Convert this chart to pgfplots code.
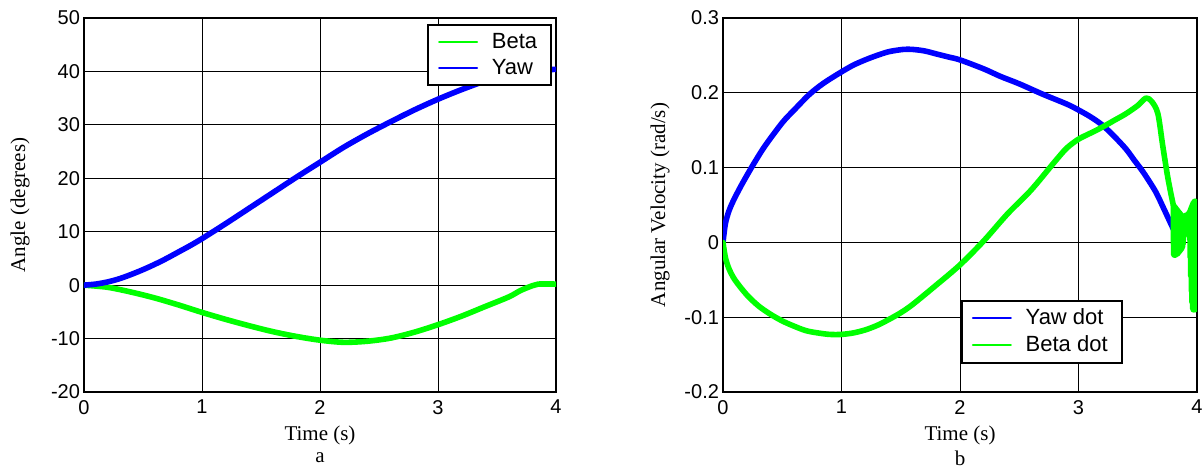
\documentclass[border=0pt]{standalone}
\usepackage{fontspec}
\setmainfont{Liberation Serif}
\setsansfont{Liberation Sans}
\usepackage{pgfplots}
\pgfplotsset{compat=1.18}
\definecolor{mblue}{RGB}{0,0,255}
\definecolor{mgreen}{RGB}{0,255,0}
\pgfplotsset{
 myax/.style={
   scale only axis, height=187pt,
   xmin=0, xmax=4, xtick={0,1,2,3,4},
   grid=major, major grid style={black, line width=0.5pt},
   axis line style={line width=0.9pt},
   tick style={black, line width=0.5pt}, tick align=inside, major tick length=3pt,
   ticklabel style={font=\sffamily\fontsize{10}{12}\selectfont},
   /pgf/number format/assume math mode=true,
   yticklabel style={xshift=1.5pt},
   xticklabel style={yshift=-0.5pt},
   label style={font=\fontsize{10.5}{12}\selectfont},
   xlabel style={at={(axis description cs:0.5,0)}, anchor=center, yshift=-21.5pt},
   legend style={font=\sffamily\fontsize{11}{12}\selectfont, draw=black, line width=0.9pt, fill=white,
      inner xsep=5pt, inner ysep=2pt, row sep=0pt, cells={anchor=west}},
   legend image code/.code={\draw[#1, line width=1pt] (0pt,0pt) -- (19pt,0pt); \path (23pt,0pt);},
   every axis plot/.append style={line width=2.8pt, line join=round, line cap=round},
 }
}
\begin{document}
\begin{tikzpicture}
\path[use as bounding box] (0,0) rectangle (602pt,233.5pt);
\begin{axis}[myax, at={(42pt,37.5pt)}, anchor=south west, width=236pt,
  ymin=-20, ymax=50, ytick={-20,-10,0,10,20,30,40,50},
  xlabel={Time (s)}, ylabel={Angle (degrees)},
  ylabel style={at={(axis description cs:0,0.5)}, anchor=center, yshift=32pt},
  legend style={at={(rel axis cs:1,1)}, anchor=north east, xshift=-2pt, yshift=-3pt},
  extra description/.code={\node[font=\fontsize{10.5}{12}\selectfont] at (rel axis cs:0.5,0) [yshift=-33pt] {a};}]
\addplot[mgreen, smooth] coordinates {
(0,0) (0.2,-0.4) (0.4,-1.3) (0.6,-2.4) (0.8,-3.7) (1.0,-5.1) (1.2,-6.4) (1.4,-7.6)
(1.6,-8.7) (1.8,-9.6) (2.0,-10.3) (2.2,-10.7) (2.4,-10.5) (2.6,-9.9) (2.8,-8.8)
(3.0,-7.4) (3.2,-5.8) (3.4,-4.0) (3.6,-2.2) (3.7,-1.0) (3.8,-0.1) (3.85,0.2) (4.0,0.2)};
\addlegendentry{Beta}
\addplot[mblue, smooth] coordinates {
(0,0) (0.1,0.2) (0.2,0.6) (0.3,1.2) (0.4,2.0) (0.5,2.9) (0.6,3.9) (0.7,5.0) (0.8,6.2)
(0.9,7.4) (1.0,8.7) (1.2,11.5) (1.4,14.4) (1.6,17.3) (1.8,20.2) (2.0,23.0) (2.2,25.8)
(2.4,28.3) (2.6,30.6) (2.8,32.8) (3.0,34.8) (3.2,36.6) (3.4,38.2) (3.6,39.4) (3.8,40.1) (4.0,40.4)};
\addlegendentry{Yaw}
\end{axis}
\begin{axis}[myax, at={(361.5pt,37.5pt)}, anchor=south west, width=237pt,
  ymin=-0.2, ymax=0.3, ytick={-0.2,-0.1,0,0.1,0.2,0.3},
  xlabel={Time (s)}, ylabel={Angular Velocity (rad/s)},
  ylabel style={at={(axis description cs:0,0.5)}, anchor=center, yshift=31.5pt},
  legend style={at={(rel axis cs:0,1)}, anchor=north west, xshift=119pt, yshift=-141pt},
  extra description/.code={\node[font=\fontsize{10.5}{12}\selectfont] at (rel axis cs:0.5,0) [yshift=-33pt] {b};}]
\addplot[mblue, smooth] coordinates {
(0,0) (0.02,0.025) (0.05,0.042) (0.085,0.055) (0.15,0.075) (0.24,0.1) (0.35,0.128)
(0.5,0.16) (0.6,0.177) (0.73,0.198) (0.85,0.213) (1.0,0.228) (1.1,0.237) (1.2,0.244)
(1.3,0.25) (1.4,0.255) (1.52,0.258) (1.6,0.258) (1.7,0.256) (1.8,0.252) (1.9,0.248)
(2.0,0.244) (2.2,0.232) (2.34,0.222) (2.5,0.212) (2.7,0.198) (2.9,0.185) (3.0,0.177)
(3.1,0.168) (3.2,0.157) (3.3,0.142) (3.4,0.125) (3.47,0.11) (3.55,0.093) (3.65,0.068)
(3.72,0.045) (3.8,0.018) (3.83,0.01)};
\addlegendentry{Yaw dot}
\addplot[mgreen, smooth] coordinates {
(0,0) (0.02,-0.02) (0.05,-0.035) (0.1,-0.05) (0.2,-0.07) (0.3,-0.085) (0.4,-0.096)
(0.5,-0.105) (0.6,-0.112) (0.7,-0.118) (0.8,-0.121) (0.9,-0.123) (1.0,-0.123)
(1.1,-0.121) (1.2,-0.117) (1.3,-0.111) (1.4,-0.103) (1.5,-0.094) (1.6,-0.083)
(1.8,-0.057) (2.0,-0.03) (2.2,0.002) (2.4,0.038) (2.6,0.07) (2.8,0.108) (2.9,0.126)
(3.0,0.138) (3.1,0.146) (3.2,0.154) (3.3,0.163) (3.4,0.172) (3.5,0.183) (3.57,0.193)
(3.62,0.188) (3.67,0.172) (3.71,0.13) (3.75,0.09) (3.78,0.065) (3.8,0.05)};
\addlegendentry{Beta dot}
\addplot[mgreen, line width=2.8pt, line cap=butt, forget plot] coordinates {
(3.8000,0.050) (3.8025,-0.016) (3.8050,0.049) (3.8075,-0.017) (3.8100,0.048) (3.8125,-0.017)
(3.8150,0.047) (3.8175,-0.017) (3.8200,0.046) (3.8225,-0.016) (3.8250,0.045) (3.8275,-0.016)
(3.8300,0.044) (3.8325,-0.015) (3.8350,0.043) (3.8375,-0.015) (3.8400,0.042) (3.8425,-0.014)
(3.8450,0.041) (3.8475,-0.013) (3.8500,0.040) (3.8525,-0.012) (3.8550,0.039) (3.8575,-0.011)
(3.8600,0.038) (3.8625,-0.010) (3.8650,0.037) (3.8675,-0.009) (3.8700,0.036) (3.8725,-0.008)
(3.8750,0.035) (3.8775,-0.006) (3.8800,0.034) (3.8825,-0.002) (3.8850,0.034) (3.8875,0.011)
(3.8900,0.035) (3.8925,0.012) (3.8950,0.035) (3.8975,0.012) (3.9000,0.036) (3.9025,0.012)
(3.9050,0.036) (3.9075,0.012) (3.9100,0.036) (3.9125,0.012) (3.9150,0.037) (3.9175,0.011)
(3.9200,0.037) (3.9225,0.011) (3.9250,0.038) (3.9275,0.010) (3.9300,0.039) (3.9325,0.008)
(3.9350,0.040) (3.9375,0.004) (3.9400,0.042) (3.9425,-0.020) (3.9450,0.044) (3.9475,-0.045)
(3.9500,0.046) (3.9525,-0.065) (3.9550,0.048) (3.9575,-0.080) (3.9600,0.050) (3.9625,-0.088)
(3.9650,0.052) (3.9675,-0.090) (3.9700,0.053) (3.9725,-0.090) (3.9750,0.054) (3.9775,-0.090)
(3.9800,0.055) (3.9825,-0.090) (3.9850,0.055) (3.9875,-0.089) (3.9900,0.054) (3.9925,-0.088)
(3.9950,0.050) (3.9975,-0.085)};
\end{axis}
\end{tikzpicture}
\end{document}
